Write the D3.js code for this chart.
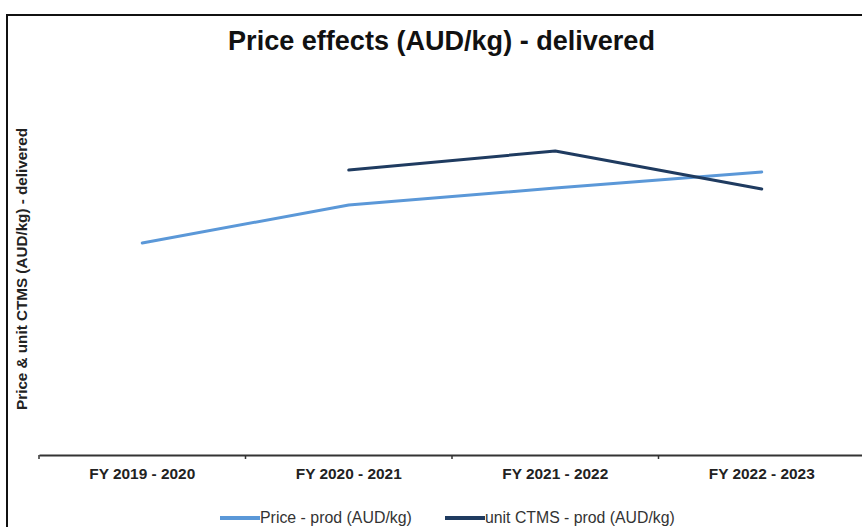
<!DOCTYPE html>
<html><head><meta charset="utf-8">
<script src="https://cdn.jsdelivr.net/npm/d3@7"></script>
<style>html,body{margin:0;padding:0;background:#fff;}svg{display:block;font-family:"Liberation Sans",Arial,sans-serif;}</style>
</head><body>
<svg id="c" width="862" height="527"></svg>
<script>
const categories = ["FY 2019 - 2020","FY 2020 - 2021","FY 2021 - 2022","FY 2022 - 2023"];
const priceProd = [2.12, 2.50, 2.67, 2.83];
const ctmsProd = [null, 2.85, 3.04, 2.66];
const seriesNames = ["Price - prod (AUD/kg)","unit CTMS - prod (AUD/kg)"];
const seriesColors = ["#5b98d8","#1f3b60"];
const titleText = "Price effects (AUD/kg) - delivered";
const yLabel = "Price & unit CTMS (AUD/kg) - delivered";
const narrow = "'Liberation Sans Narrow','Arial Narrow','Liberation Sans',sans-serif";

const svg = d3.select("#c");
function fit(t, w){ const n=t.node(); const s=parseFloat(t.attr("font-size")); const L=n.getComputedTextLength(); t.attr("font-size", s*w/L); }

svg.append("rect").attr("x",7).attr("y",15).attr("width",900).attr("height",600)
  .attr("fill","none").attr("stroke","#111").attr("stroke-width",2);

const x = d3.scaleBand().domain(categories).range([39,865]);
const y = d3.scaleLinear().domain([0,4]).range([455,55]);

const ax = svg.append("g").attr("transform","translate(0,455)")
  .call(d3.axisBottom(x).tickSize(0).tickPadding(13));
ax.select(".domain").attr("stroke","#333").attr("stroke-width",2);
ax.selectAll("text").attr("font-weight","bold").attr("fill","#222").attr("font-size",14)
  .attr("font-family",narrow);
ax.selectAll("text").each(function(){ fit(d3.select(this),106); });
const bounds = categories.map(c=>x(c)).concat([x.range()[1]]);
svg.selectAll(".bt").data(bounds).enter().append("line")
  .attr("x1",d=>d).attr("x2",d=>d).attr("y1",455).attr("y2",459)
  .attr("stroke","#333").attr("stroke-width",1.5);

const cx = c => x(c)+x.bandwidth()/2;
const line = d3.line().defined(d=>d.v!=null).x(d=>cx(d.c)).y(d=>y(d.v));
[priceProd, ctmsProd].forEach((s,i)=>{
  svg.append("path").datum(categories.map((c,j)=>({c, v:s[j]})))
    .attr("d",line).attr("fill","none").attr("stroke",seriesColors[i])
    .attr("stroke-width",3).attr("stroke-linecap","round").attr("stroke-linejoin","round");
});

const t = svg.append("text").attr("x",441.5).attr("y",50).attr("text-anchor","middle")
  .attr("font-weight","bold").attr("font-size",26).attr("fill","#111").text(titleText);
fit(t,427);

const yl = svg.append("text").attr("transform","translate(27,269) rotate(-90)")
  .attr("text-anchor","middle").attr("font-weight","bold").attr("font-size",12).attr("fill","#222").text(yLabel);
fit(yl,282);

const lg = [{x1:220,x2:260,tx:260,w:152},{x1:445,x2:485,tx:485,w:190}];
lg.forEach((p,i)=>{
  svg.append("line").attr("x1",p.x1).attr("x2",p.x2).attr("y1",518).attr("y2",518)
    .attr("stroke",seriesColors[i]).attr("stroke-width",4);
  const lt = svg.append("text").attr("x",p.tx).attr("y",523).attr("font-size",14)
    .attr("font-family",narrow).attr("fill","#333").text(seriesNames[i]);
  fit(lt,p.w);
});
</script>
</body></html>
